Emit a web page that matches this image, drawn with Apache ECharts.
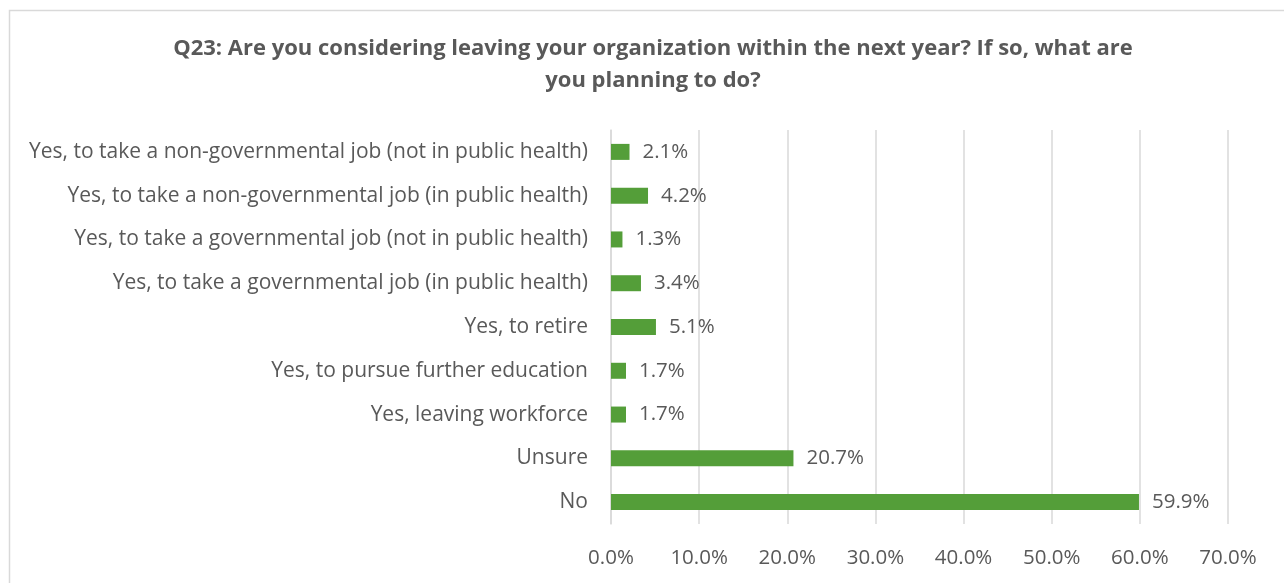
<!DOCTYPE html>
<html>
<head>
<meta charset="utf-8">
<script src="https://cdn.jsdelivr.net/npm/echarts@6/dist/echarts.min.js"></script>
<style>
html,body{margin:0;padding:0;background:#fff;}
#main{width:1284px;height:583px;}
</style>
</head>
<body>
<div id="main"></div>
<script>
// categories, top to bottom
var categories = [
	'Yes, to take a non-governmental job (not in public health)',
	'Yes, to take a non-governmental job (in public health)',
	'Yes, to take a governmental job (not in public health)',
	'Yes, to take a governmental job (in public health)',
	'Yes, to retire',
	'Yes, to pursue further education',
	'Yes, leaving workforce',
	'Unsure',
	'No'
];
var percentValues = [2.1, 4.2, 1.3, 3.4, 5.1, 1.7, 1.7, 20.7, 59.9];
var axisMax = 70;
var axisStep = 10;

var fontFam = '"Open Sans", "Noto Sans", sans-serif';
var txtColor = '#595959';

var myChart = echarts.init(document.getElementById('main'));
var option = {
	animation: false,
	title: {
		text: 'Q23: Are you considering leaving your organization within the next year? If so, what are\nyou planning to do?',
		left: 648,
		top: 28,
		textAlign: 'center',
		textStyle: {
			fontFamily: fontFam,
			fontSize: 22,
			fontWeight: 'bold',
			color: txtColor,
			lineHeight: 32
		}
	},
	graphic: [{
		type: 'rect',
		shape: {x: 9.5, y: 10.5, width: 1300, height: 600},
		style: {fill: 'none', stroke: '#d9d9d9', lineWidth: 1.5},
		silent: true
	}],
	grid: {left: 611, right: 56, top: 130, bottom: 59, containLabel: false},
	xAxis: {
		type: 'value',
		min: 0,
		max: axisMax,
		interval: axisStep,
		axisLine: {show: false},
		axisTick: {show: false},
		splitLine: {lineStyle: {color: '#d9d9d9', width: 1.5}},
		axisLabel: {
			formatter: function(v){ return v.toFixed(1) + '%'; },
			fontFamily: fontFam,
			fontSize: 20.5,
			color: txtColor,
			margin: 24
		}
	},
	yAxis: {
		type: 'category',
		data: categories,
		inverse: true,
		axisLine: {lineStyle: {color: '#d9d9d9', width: 1.5}},
		axisTick: {show: false},
		axisLabel: {
			fontFamily: fontFam,
			fontSize: 21,
			color: txtColor,
			margin: 23
		}
	},
	series: [{
		type: 'bar',
		data: percentValues,
		barWidth: 16,
		itemStyle: {color: '#549e39'},
		label: {
			show: true,
			position: 'right',
			distance: 13,
			formatter: function(p){ return p.value.toFixed(1) + '%'; },
			fontFamily: fontFam,
			fontSize: 20.5,
			color: txtColor
		}
	}]
};
myChart.setOption(option);
</script>
</body>
</html>
